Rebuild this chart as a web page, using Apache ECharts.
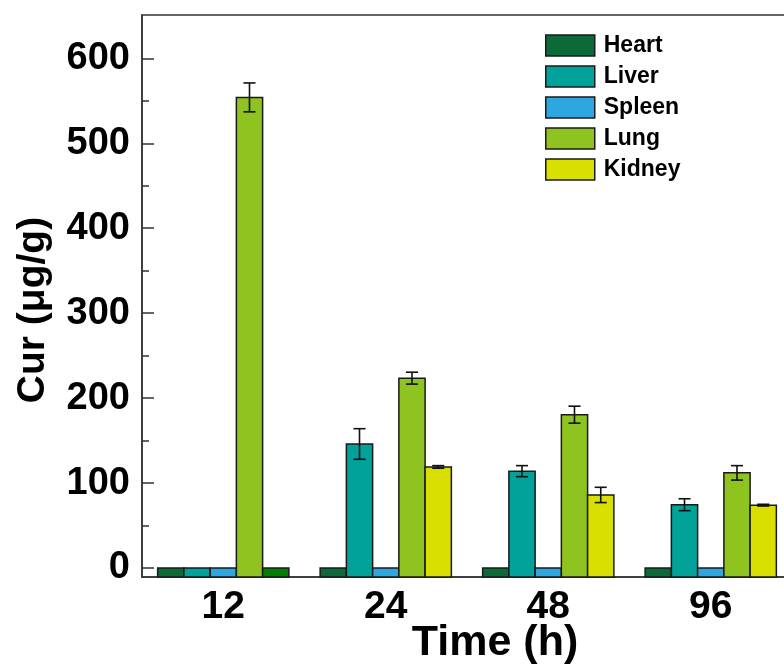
<!DOCTYPE html>
<html>
<head>
<meta charset="utf-8">
<script src="https://cdn.jsdelivr.net/npm/echarts@6/dist/echarts.min.js"></script>
<style>
html,body{margin:0;padding:0;background:#fff;}
#chart{width:784px;height:671px;}
</style>
</head>
<body>
<div id="chart"></div>
<script>
// ---- data ----
const categories = ['12', '24', '48', '96'];
const organs = ['Heart', 'Liver', 'Spleen', 'Lung', 'Kidney'];
const heartValues  = [0, 0, 0, 0];
const heartErrors  = [0, 0, 0, 0];
const liverValues  = [0, 146, 114, 74.5];
const liverErrors  = [0, 18, 6.5, 7];
const spleenValues = [0, 0, 0, 0];
const spleenErrors = [0, 0, 0, 0];
const lungValues   = [554, 223.5, 180.5, 112];
const lungErrors   = [17, 7, 10, 8.5];
const kidneyValues = [0, 119, 86, 74];
const kidneyErrors = [0, 1.5, 9, 1];
const yTicks = [0, 100, 200, 300, 400, 500, 600];
const yMinorTicks = [50, 150, 250, 350, 450, 550];
const Y_MIN = -10.6;
const Y_MAX = 651;

// ---- styles ----
const FONT = "'Liberation Sans', Arial, Helvetica, sans-serif";
const colors = ['#0c6a39', '#00a29a', '#2ea7e0', '#8fc31f', '#d9df00'];
const EDGE = '#1a1a1a';
const BAR_FRAC = 0.1615;

const valueSets = [heartValues, liverValues, spleenValues, lungValues, kidneyValues];
const errorSets = [heartErrors, liverErrors, spleenErrors, lungErrors, kidneyErrors];

function makeRender(sIdx) {
  return function (params, api) {
    const ci = api.value(0), v = api.value(1), e = api.value(2);
    const band = api.size([1, 0])[0];
    const w = band * BAR_FRAC;
    const center = api.coord([ci, 0])[0];
    const x0 = center + (sIdx - 2.5) * w;
    const yTop = api.coord([ci, v])[1];
    const yBase = api.coord([ci, Y_MIN])[1];
    const style = api.style();
    const children = [{
      type: 'rect',
      shape: { x: x0, y: yTop, width: w, height: yBase - yTop },
      style: Object.assign({}, style, { stroke: EDGE, lineWidth: 1.5 })
    }];
    if (e > 0) {
      const yHi = api.coord([ci, v + e])[1];
      const yLo = api.coord([ci, v - e])[1];
      const cx = x0 + w / 2;
      const cap = w * 0.23;
      const ls = { stroke: '#111', lineWidth: 1.6 };
      children.push({ type: 'line', shape: { x1: cx, y1: yHi, x2: cx, y2: yLo }, style: ls });
      children.push({ type: 'line', shape: { x1: cx - cap, y1: yHi, x2: cx + cap, y2: yHi }, style: ls });
      children.push({ type: 'line', shape: { x1: cx - cap, y1: yLo, x2: cx + cap, y2: yLo }, style: ls });
    }
    return { type: 'group', children: children };
  };
}

const series = organs.map(function (name, s) {
  return {
    name: name,
    type: 'custom',
    yAxisIndex: 0,
    renderItem: makeRender(s),
    itemStyle: { color: colors[s], borderColor: EDGE, borderWidth: 1.5 },
    encode: { x: 0, y: 1 },
    clip: false,
    data: categories.map(function (c, i) {
      const item = { value: [i, valueSets[s][i], errorSets[s][i]] };
      // in the source figure the 12 h kidney bar is drawn in pure green
      if (name === 'Kidney' && i === 0) item.itemStyle = { color: '#008000' };
      return item;
    })
  };
});

const chart = echarts.init(document.getElementById('chart'), null, { renderer: 'canvas' });
chart.setOption({
  animation: false,
  backgroundColor: '#fff',
  textStyle: { fontFamily: FONT },
  grid: {
    left: 142, right: -8, top: 15, bottom: 94,
    outerBoundsMode: 'none',
    containLabel: false,
    show: true, borderColor: '#333', borderWidth: 1.5, backgroundColor: 'transparent'
  },
  legend: {
    orient: 'vertical',
    left: 545, top: 34,
    padding: 0,
    itemWidth: 49, itemHeight: 21, itemGap: 8,
    icon: 'rect',
    itemStyle: { borderColor: EDGE, borderWidth: 1.5 },
    textStyle: { fontFamily: FONT, fontWeight: 'bold', fontSize: 23, color: '#000', lineHeight: 21, padding: [0, 0, 0, 4] },
    data: organs
  },
  xAxis: {
    type: 'category',
    data: categories,
    axisLine: { show: true, onZero: false, lineStyle: { color: '#333', width: 1.5 } },
    axisTick: { show: false },
    axisLabel: { fontFamily: FONT, fontWeight: 'bold', fontSize: 39, color: '#000', margin: 11 },
    name: 'Time (h)',
    nameLocation: 'middle',
    nameGap: 45,
    nameMoveOverlap: false,
    nameTextStyle: { fontFamily: FONT, fontWeight: 'bold', fontSize: 43, color: '#000', padding: [0, 0, 0, 56] }
  },
  yAxis: [{
    type: 'value',
    position: 'left',
    min: Y_MIN, max: Y_MAX,
    axisLine: { show: true, onZero: false, lineStyle: { color: '#333', width: 1.5 } },
    axisTick: { show: true, inside: true, length: 12, customValues: yTicks, lineStyle: { color: '#333', width: 1.5 } },
    axisLabel: { customValues: yTicks, fontFamily: FONT, fontWeight: 'bold', fontSize: 38, color: '#000', margin: 12 },
    splitLine: { show: false },
    name: 'Cur (μg/g)',
    nameLocation: 'middle',
    nameGap: 89,
    nameMoveOverlap: false,
    nameTextStyle: { fontFamily: FONT, fontWeight: 'bold', fontSize: 39, color: '#000', padding: [0, 28, 0, 0] }
  }, {
    type: 'value',
    position: 'left',
    min: Y_MIN, max: Y_MAX,
    axisLine: { show: false },
    axisTick: { show: true, inside: true, length: 7, customValues: yMinorTicks, lineStyle: { color: '#333', width: 1.5 } },
    axisLabel: { show: false },
    splitLine: { show: false }
  }],
  series: series
});
</script>
</body>
</html>
